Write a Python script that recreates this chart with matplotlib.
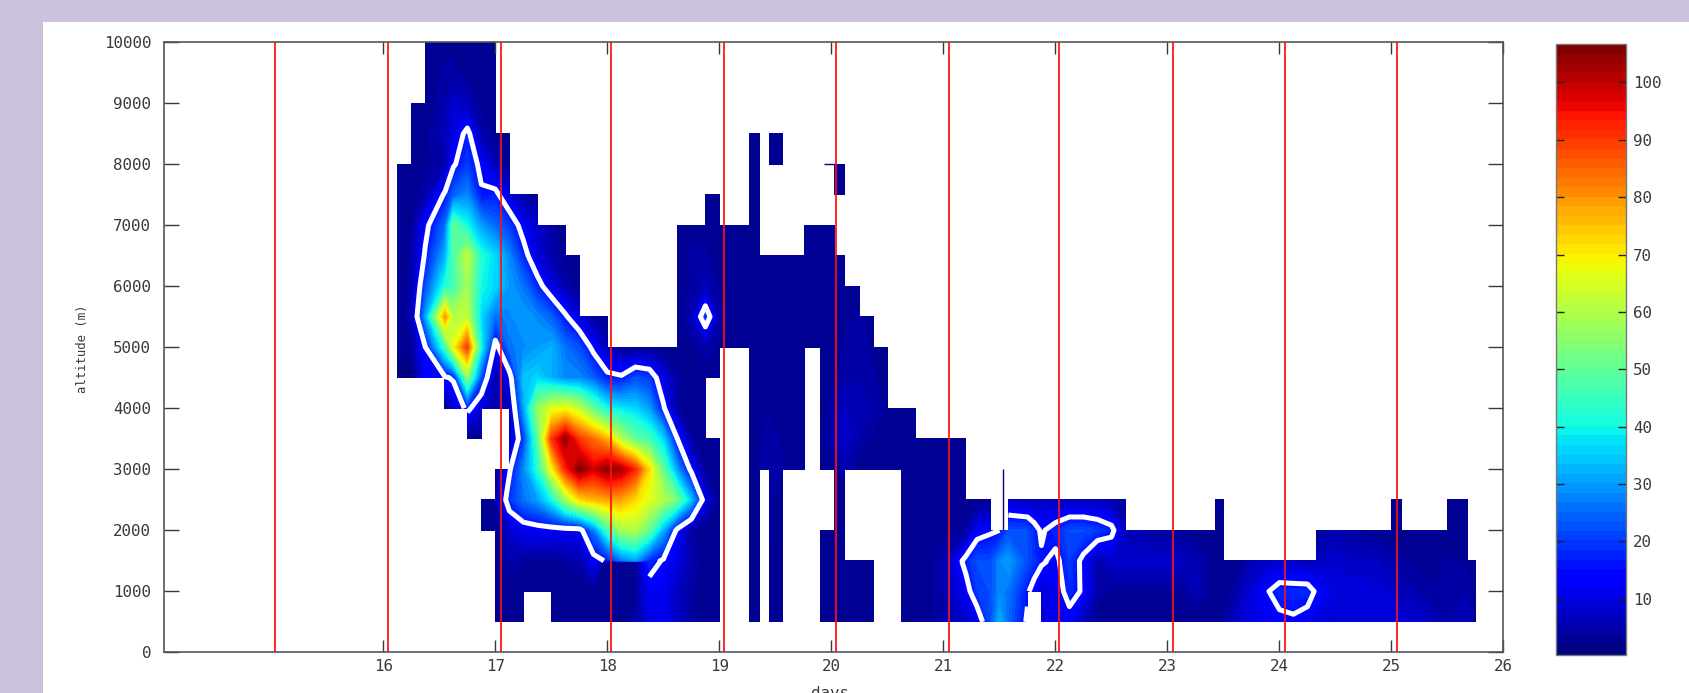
import numpy as np
import matplotlib
matplotlib.use("Agg")
import matplotlib.pyplot as plt
from matplotlib.colors import ListedColormap, BoundaryNorm
from matplotlib.patches import Rectangle

n = float('nan')
E = [n] * 8
E9 = [n] * 9

days = [16, 16.125, 16.25, 16.375, 16.55, 16.625, 16.75, 16.875,
        17, 17.125, 17.25, 17.375, 17.5, 17.625, 17.75, 17.875,
        18, 18.125, 18.25, 18.375, 18.5, 18.625, 18.75, 18.875,
        19, 19.125, 19.27, 19.36, 19.40, 19.45, 19.56, 19.76, 19.83,
        19.9, 20.03, 20.12, 20.25, 20.375, 20.5, 20.625, 20.75,
        20.875, 21, 21.2, 21.30, 21.42, 21.5, 21.58, 21.75,
        21.81, 21.875, 22, 22.125, 22.25, 22.375, 22.5, 22.625, 22.75,
        22.875, 23, 23.125, 23.25, 23.43, 23.5, 23.625, 23.75,
        23.875, 24, 24.125, 24.25, 24.33, 24.5, 24.625, 24.75,
        24.875, 25, 25.09, 25.25, 25.375, 25.5, 25.68, 25.75]

v10000 = [n,n,n,2,3,3,2,2] + [2,n,n,n,n,n,n,n] + E + E9 + E*6 + [n]
v9500 = [n,n,n,2,4,4,3,2] + [2,n,n,n,n,n,n,n] + E + E9 + E*6 + [n]
v9000 = [n,n,2,2,5,8,6,3] + [2,n,n,n,n,n,n,n] + E + E9 + E*6 + [n]
v8500 = [n,n,2,3,6,10,17,5] + [3,2,n,n,n,n,n,n] + E + [n,n,2,2,n,2,2,n,n] + E*6 + [n]
v8000 = [n,2,2,3,5,14,20,13] + [6,2,n,n,n,n,n,n] + E + [n,n,2,2,n,2,2,n,n] + [n,2,2,n,n,n,n,n] + E*5 + [n]
v7500 = [n,2,2,5,16,24,28,16] + [17,9,4,2,n,n,n,n] + [n,n,n,n,n,n,n,2] + [2,n,2,2,n,n,n,n,n] + [n,2,2,n,n,n,n,n] + E*5 + [n]
v7000 = [n,2,3,13,25,50,40,30] + [25,20,12,8,4,2,n,n] + [n,n,n,n,n,2,3,2] + [2,2,2,2,n,n,n,2,2] + [2,2,n,n,n,n,n,n] + E*5 + [n]
v6500 = [n,2,4,16,32,48,62,42] + [36,28,18,9,5,3,2,n] + [n,n,n,n,n,2,4,4] + [2,2,2,2,2,2,2,2,2] + [2,2,2,n,n,n,n,n] + E*5 + [n]
v6000 = [n,2,4,22,42,46,58,40] + [36,30,26,18,10,5,2,n] + [n,n,n,n,2,2,4,6] + [3,2,2,2,2,2,2,2,2] + [2,2,2,2,n,n,n,n] + E*5 + [n]
v5500 = [n,2,5,30,80,60,62,36] + [25,28,30,28,24,16,9,4] + [2,n,n,n,n,2,6,20] + [5,2,2,2,2,2,2,2,2] + [2,2,3,4,2,n,n,n] + E*5 + [n]
v5000 = [n,2,3,15,45,68,90,40] + [12,26,28,30,32,26,22,13] + [6,3,2,2,2,2,3,5] + [3,2,2,2,2,3,2,2,2] + [2,2,4,5,3,2,n,n] + E*5 + [n]
v4500 = [n,1,1,12,14,16,55,22] + [5,12,34,36,32,28,28,24] + [17,16,22,20,10,4,2,2] + [2,n,2,2,2,2,3,2,n] + [2,3,5,5,4,2,n,n] + E*5 + [n]
v4000 = [n,n,n,n,2,8,17,9] + [5,6,30,56,66,68,62,50] + [40,38,36,30,16,4,2,2] + [n,n,2,3,3,3,2,2,n] + [2,5,7,6,5,3,2,2] + E*5 + [n]
v3500 = [n,n,n,n,n,n,2,2] + [n,6,20,48,90,104,90,84] + [76,60,50,46,36,15,4,2] + [2,n,2,3,4,5,3,2,n] + [2,6,8,5,3,2,2,2] + [2,2,2,n,n,n,n,n] + E*4 + [n]
v3000 = E + [2,14,28,42,68,92,106,98] + [105,102,92,72,50,30,13,3] + [2,n,2,4,4,5,4,2,n] + [2,3,5,2,2,2,2,2] + [2,2,2,n,n,n,n,n] + E*4 + [n]
v2500 = [n,n,n,n,n,n,n,2] + [4,19,26,30,40,58,72,76] + [78,78,72,66,60,52,34,10] + [3,n,2,3,n,4,2,n,n] + [n,2,2,n,n,n,2,2] + [2,2,2,2,2,n,8,6] + [6,7,6,6,6,6,5,3,n] + [n,n,n,n,2,2,n,n] + E + [n,2,2,n,n,2,2,n]
v2000 = [n,n,n,n,n,n,n,2] + [2,8,11,12,12,12,12,26] + [45,58,60,50,32,13,4,2] + [2,n,2,3,n,4,2,n,n] + [2,3,2,n,n,n,2,2] + [2,3,4,12,14,15,22,22] + [18,14,18,22,22,20,17,6,5] + [4,4,3,2,2,2,n,n] + [n,n,n,n,3,5,4,3] + [2,2,2,2,2,2,2,n]
v1500 = E + [2,5,4,3,3,4,5,12] + [16,26,30,18,14,10,5,2] + [2,n,2,3,n,3,2,n,n] + [2,2,3,3,2,n,2,2] + [3,5,17,22,22,28,30,22] + [19,16,13,20,13,5,8,8,8] + [8,8,7,6,2,2,2,6] + [7,8,7,6,7,8,7,7] + [7,5,4,3,2,4,3,2]
v1480 = E + [2,5,4,3,3,4,5,12] + [2,2,3,18,14,10,5,2] + [2,n,2,3,n,3,2,n,n] + [2,2,3,3,2,n,2,2] + [3,5,17,22,22,28,30,22] + [19,16,13,20,13,5,8,8,8] + [8,8,7,6,2,2,2,6] + [7,8,7,6,7,8,7,7] + [7,5,4,3,2,4,3,2]
v1000 = E + [2,2,2,2,2,2,2,3] + [2,2,3,12,11,7,4,2] + [2,n,2,3,n,3,2,n,n] + [2,3,3,3,2,n,2,2] + [3,5,12,20,22,28,26,16] + [12,8,11,18,14,5,3,3,3] + [3,3,3,6,2,2,5,9] + [14,18,18,18,14,10,10,10] + [9,8,6,5,4,5,5,2]
v500 = E + [2,2,2,n,2,2,2,3] + [2,3,4,10,11,7,4,2] + [2,n,2,2,n,2,2,n,n] + [2,3,3,3,2,n,2,2] + [3,5,8,10,22,32,25,14] + [n,10,11,12,6,2,2,2,2] + [2,2,2,2,2,4,8,10] + [11,13,14,12,9,8,10,10] + [10,10,9,8,6,5,7,3]

altitudes = [500, 1000, 1480, 1500, 2000, 2500, 3000, 3500, 4000, 4500, 5000,
             5500, 6000, 6500, 7000, 7500, 8000, 8500, 9000, 9500, 10000]
rows = [v500, v1000, v1480, v1500, v2000, v2500, v3000, v3500, v4000, v4500, v5000,
        v5500, v6000, v6500, v7000, v7500, v8000, v8500, v9000, v9500, v10000]

red_days = [15.03, 16.04, 17.05, 18.03, 19.04, 20.04, 21.05, 22.03, 23.05, 24.05, 25.05]
spike_day = 21.53
spike_alts = [2000, 3000]
sliver_alt = 8000
sliver_days = [19.93, 20.03]
xticks = list(range(16, 27))
yticks = list(range(0, 10001, 1000))
cticks = list(range(10, 101, 10))
contour_level = 15

W, H = 1690, 693
LAV = '#cbc1da'
INK = '#3a3a3a'
MONO = 'DejaVu Sans Mono'

fig = plt.figure(figsize=(W / 100, H / 100), dpi=100, facecolor=LAV)
fig.add_artist(Rectangle((43 / W, 0), 1 - 43 / W, 1 - 21.5 / H, transform=fig.transFigure,
                         facecolor='white', edgecolor='none', zorder=-1))

ax = fig.add_axes([163.8 / W, 1 - 652.4 / H, (1503.5 - 163.8) / W, (652.4 - 42) / H], facecolor='white')
cax = fig.add_axes([1556.5 / W, 1 - 655 / H, (1626 - 1556.5) / W, (655 - 44) / H])

Z = np.array(rows, dtype=float)
cmap = ListedColormap(plt.get_cmap('jet')(np.linspace(0, 1, 64)))
levels = np.linspace(0.2, 106.7, 65)
norm = BoundaryNorm(levels, 64)
cf = ax.contourf(days, altitudes, Z, levels=levels, cmap=cmap, norm=norm, corner_mask=False)

Zc = Z.copy()
Zc[altitudes.index(1480), 16:19] = np.nan
ax.contour(days, altitudes, Zc, levels=[contour_level], colors='white', linewidths=3.6, corner_mask=False)

navy = cmap(0)
ax.vlines(spike_day, spike_alts[0], spike_alts[1], color=navy, lw=1.0)
ax.hlines(sliver_alt, sliver_days[0], sliver_days[1], color=navy, lw=1.0)

for d in red_days:
    ax.axvline(d, color='#ff1010', lw=1.25, zorder=5)

ax.set_xlim(14.04, 26)
ax.set_ylim(0, 10000)
ax.set_xticks(xticks)
ax.set_yticks(yticks)
ax.tick_params(axis='x', direction='in', top=True, length=8.6, width=1.0, color=INK,
               labelsize=11.4, labelcolor=INK, pad=5)
ax.tick_params(axis='y', direction='in', right=True, length=10.6, width=1.0, color=INK,
               labelsize=11.4, labelcolor=INK, pad=9)
for lab in ax.get_xticklabels() + ax.get_yticklabels():
    lab.set_family(MONO)
for s in ax.spines.values():
    s.set_color('#555555')
    s.set_linewidth(1.2)

cb = fig.colorbar(cf, cax=cax, ticks=cticks, spacing='proportional', drawedges=False)
cb.ax.minorticks_off()
cb.ax.tick_params(direction='in', left=True, right=True, length=5.8, width=1.0, color='#222222',
                  labelsize=11.4, labelcolor=INK, pad=5)
for lab in cb.ax.get_yticklabels():
    lab.set_family(MONO)
cb.outline.set_edgecolor('#777777')
cb.outline.set_linewidth(1.0)

fig.text(83 / W, 1 - 349 / H, 'altitude (m)', rotation=90, ha='center', va='center',
         family=MONO, fontsize=8.8, color=INK)
fig.text(830 / W, 1 - 686 / H, 'days', ha='center', va='top', family=MONO, fontsize=11.4, color=INK)

fig.savefig('out.png', dpi=100, facecolor=fig.get_facecolor())
